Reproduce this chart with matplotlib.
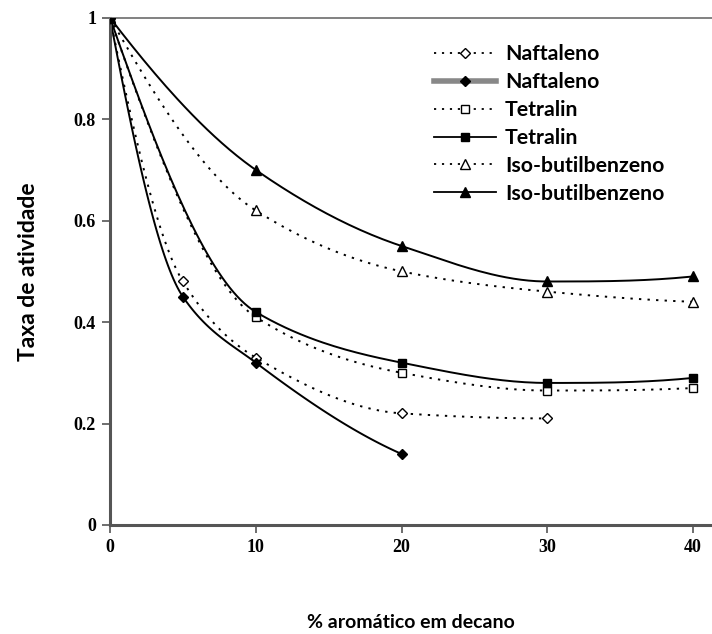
import numpy as np
import matplotlib
matplotlib.use("Agg")
import matplotlib.pyplot as plt
from matplotlib.lines import Line2D

# ---- data ----
x_naf_open = [0, 5, 10, 20, 30]
y_naf_open = [1.0, 0.48, 0.33, 0.22, 0.21]
x_naf_fill = [0, 5, 10, 20]
y_naf_fill = [1.0, 0.45, 0.32, 0.14]
x_tet = [0, 10, 20, 30, 40]
y_tet_open = [1.0, 0.41, 0.30, 0.265, 0.27]
y_tet_fill = [1.0, 0.42, 0.32, 0.28, 0.29]
x_iso = [0, 10, 20, 30, 40]
y_iso_open = [1.0, 0.62, 0.50, 0.46, 0.44]
y_iso_fill = [1.0, 0.70, 0.55, 0.48, 0.49]
labels = ["Naftaleno", "Naftaleno", "Tetralin", "Tetralin",
          "Iso-butilbenzeno", "Iso-butilbenzeno"]
xticks = [0, 10, 20, 30, 40]
yticks = [0, 0.2, 0.4, 0.6, 0.8, 1]
ytick_labels = ["0", "0.2", "0.4", "0.6", "0.8", "1"]


def smooth(x, y, n=40):
    """Monotone cubic (PCHIP) curve through the data points, for drawing."""
    x = np.asarray(x, float)
    y = np.asarray(y, float)
    h = np.diff(x)
    s = np.diff(y) / h
    k = len(x)
    d = np.zeros(k)
    for i in range(1, k - 1):
        if s[i - 1] * s[i] <= 0:
            d[i] = 0.0
        else:
            w1 = 2 * h[i] + h[i - 1]
            w2 = h[i] + 2 * h[i - 1]
            d[i] = (w1 + w2) / (w1 / s[i - 1] + w2 / s[i])

    def end(h0, h1, s0, s1):
        dd = ((2 * h0 + h1) * s0 - h0 * s1) / (h0 + h1)
        if np.sign(dd) != np.sign(s0):
            dd = 0.0
        elif np.sign(s0) != np.sign(s1) and abs(dd) > abs(3 * s0):
            dd = 3 * s0
        return dd
    d[0] = end(h[0], h[1], s[0], s[1])
    d[-1] = end(h[-1], h[-2], s[-1], s[-2])
    xs, ys = [], []
    t = np.linspace(0, 1, n)
    for i in range(k - 1):
        h00 = (1 + 2 * t) * (1 - t) ** 2
        h10 = t * (1 - t) ** 2
        h01 = t ** 2 * (3 - 2 * t)
        h11 = t ** 2 * (t - 1)
        xs.extend(x[i] + t * h[i])
        ys.extend(h00 * y[i] + h10 * h[i] * d[i] + h01 * y[i + 1] + h11 * h[i] * d[i + 1])
    return np.array(xs), np.array(ys)


fig = plt.figure(figsize=(7.12, 6.34), dpi=100)
ax = fig.add_axes([0.1545, 0.172, 0.8455, 0.8])

DOT = (0, (1.2, 3.2))
series = [
    (x_naf_open, y_naf_open, 'D', 'white', DOT, 5),
    (x_naf_fill, y_naf_fill, 'D', 'black', '-', 5),
    (x_tet, y_tet_open, 's', 'white', DOT, 6.3),
    (x_tet, y_tet_fill, 's', 'black', '-', 6.3),
    (x_iso, y_iso_open, '^', 'white', DOT, 7),
    (x_iso, y_iso_fill, '^', 'black', '-', 7),
]
for xs, ys, m, fc, ls, ms in series:
    sx, sy = smooth(xs, ys)
    ax.plot(sx, sy, color='black', lw=1.4, ls=ls, zorder=2)
    ax.plot(xs, ys, ls='none', marker=m, mfc=fc, mec='black', mew=1.0,
            ms=ms, zorder=3)

ax.set_xlim(0, 41.3)
ax.set_ylim(0, 1)
ax.set_xticks(xticks)
ax.set_xticklabels([str(v) for v in xticks])
ax.set_yticks(yticks)
ax.set_yticklabels(ytick_labels)
for lab in ax.get_xticklabels() + ax.get_yticklabels():
    lab.set_fontfamily('Liberation Serif')
    lab.set_fontweight('bold')
    lab.set_fontsize(13)
ax.tick_params(axis='both', direction='out', length=6, width=1.2,
               color='#555555', pad=4)

for s in ['left', 'bottom']:
    ax.spines[s].set_linewidth(2.2)
    ax.spines[s].set_color('#555555')
ax.spines['top'].set_linewidth(1.3)
ax.spines['top'].set_color('#777777')
ax.spines['right'].set_visible(False)

ax.set_ylabel("Taxa de atividade", fontsize=16.5, fontweight='bold',
              fontfamily='Lato', labelpad=25)
ax.set_xlabel("% aromático em decano", fontsize=14, fontweight='bold',
              fontfamily='Lato', labelpad=42)

handles = [
    Line2D([], [], color='black', ls=DOT, lw=1.3, marker='D', mfc='white', mec='black', ms=5),
    Line2D([], [], color='#888888', ls='-', lw=4, marker='D', mfc='black', mec='black', ms=5),
    Line2D([], [], color='black', ls=DOT, lw=1.3, marker='s', mfc='white', mec='black', ms=5.5),
    Line2D([], [], color='black', ls='-', lw=1.3, marker='s', mfc='black', mec='black', ms=5.5),
    Line2D([], [], color='black', ls=DOT, lw=1.3, marker='^', mfc='white', mec='black', ms=6.5),
    Line2D([], [], color='black', ls='-', lw=1.3, marker='^', mfc='black', mec='black', ms=6.5),
]
leg = ax.legend(handles, labels, loc='upper left', bbox_to_anchor=(0.507, 0.985),
                frameon=False, handlelength=2.9, handletextpad=0.42,
                labelspacing=0.37, prop={'family': 'Lato', 'weight': 'bold', 'size': 15.3})

fig.savefig("out.png", dpi=100)
